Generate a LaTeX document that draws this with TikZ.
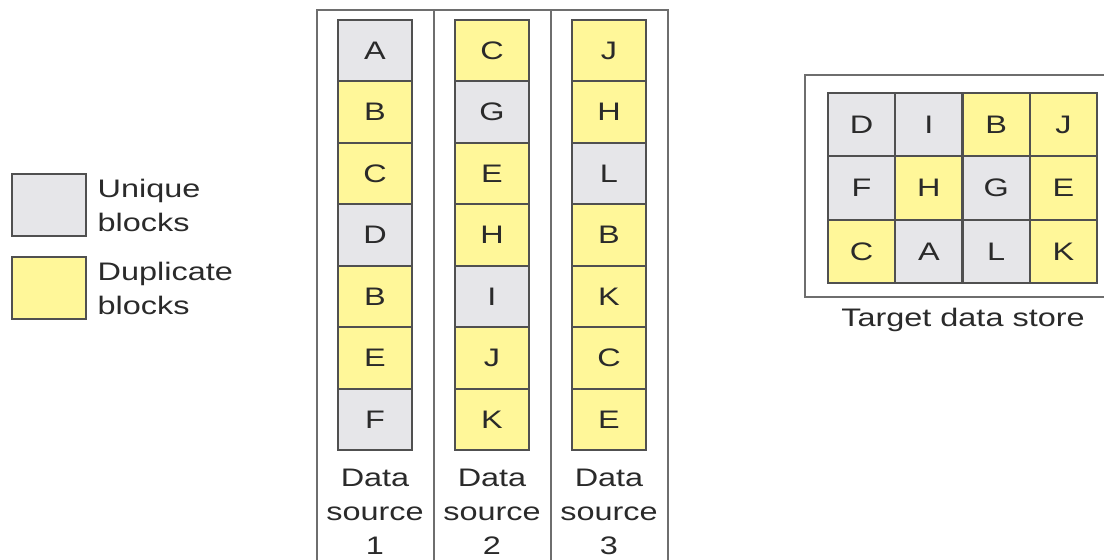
\documentclass[tikz,border=0pt]{standalone}
\usepackage{fontspec}
\setmainfont[FakeStretch=1.28]{Liberation Sans}
\definecolor{ugray}{HTML}{E6E6E9}
\definecolor{dyellow}{HTML}{FFF799}
\definecolor{bordergray}{HTML}{505050}
\definecolor{framegray}{HTML}{6E6E6E}
\definecolor{txt}{HTML}{2A2A2A}
\begin{document}
\begin{tikzpicture}[x=0.75pt,y=-0.75pt,
  every node/.style={font=\fontsize{19}{25.5}\selectfont, text=txt},
  blk/.style={draw=bordergray, line width=1.5pt, minimum width=55.5pt, minimum height=46pt, inner sep=0pt},
  uq/.style={blk, fill=ugray},
  dp/.style={blk, fill=dyellow},
  tcell/.style={minimum width=50.4pt, minimum height=47.5pt},
  frame/.style={draw=framegray, line width=1.5pt}]
\useasboundingbox (0,0) rectangle (1104,560);
\clip (0,0) rectangle (1104,560);
% data source frames
\draw[frame] (317,10) rectangle (668,580);
\draw[frame] (434,10) -- (434,580);
\draw[frame] (551,10) -- (551,580);
% columns
\foreach \t/\l [count=\i] in {uq/A,dp/B,dp/C,uq/D,dp/B,dp/E,uq/F}
  \node[\t] (sa\i) at (375,{20+61.43*(\i-0.5)}) {\l};
\foreach \t/\l [count=\i] in {dp/C,uq/G,dp/E,dp/H,uq/I,dp/J,dp/K}
  \node[\t] (sb\i) at (492,{20+61.43*(\i-0.5)}) {\l};
\foreach \t/\l [count=\i] in {dp/J,dp/H,uq/L,dp/B,dp/K,dp/C,dp/E}
  \node[\t] (sc\i) at (609,{20+61.43*(\i-0.5)}) {\l};
\node[align=center] (laba) at (375,512) {Data\\source\\1};
\node[align=center] (labb) at (492,512) {Data\\source\\2};
\node[align=center] (labc) at (609,512) {Data\\source\\3};
% legend
\node[uq, minimum height=46.5pt] (legu) at (49,205) {};
\node[anchor=west, align=left] (legut) at (93,205) {Unique\\blocks};
\node[dp, minimum height=46.5pt] (legd) at (49,288) {};
\node[anchor=west, align=left] (legdt) at (93,288) {Duplicate\\blocks};
% target data store
\draw[frame] (805,75) rectangle (1125,297);
\foreach \t/\l [count=\j] in {uq/D,uq/I,dp/B,dp/J}
  \node[\t, tcell] (ta\j) at ({828+67.25*(\j-0.5)},124.7) {\l};
\foreach \t/\l [count=\j] in {uq/F,dp/H,uq/G,dp/E}
  \node[\t, tcell] (tb\j) at ({828+67.25*(\j-0.5)},188) {\l};
\foreach \t/\l [count=\j] in {dp/C,uq/A,uq/L,dp/K}
  \node[\t, tcell] (tc\j) at ({828+67.25*(\j-0.5)},251.3) {\l};
\node (tlabel) at (963,320) {Target data store};
\end{tikzpicture}
\end{document}
